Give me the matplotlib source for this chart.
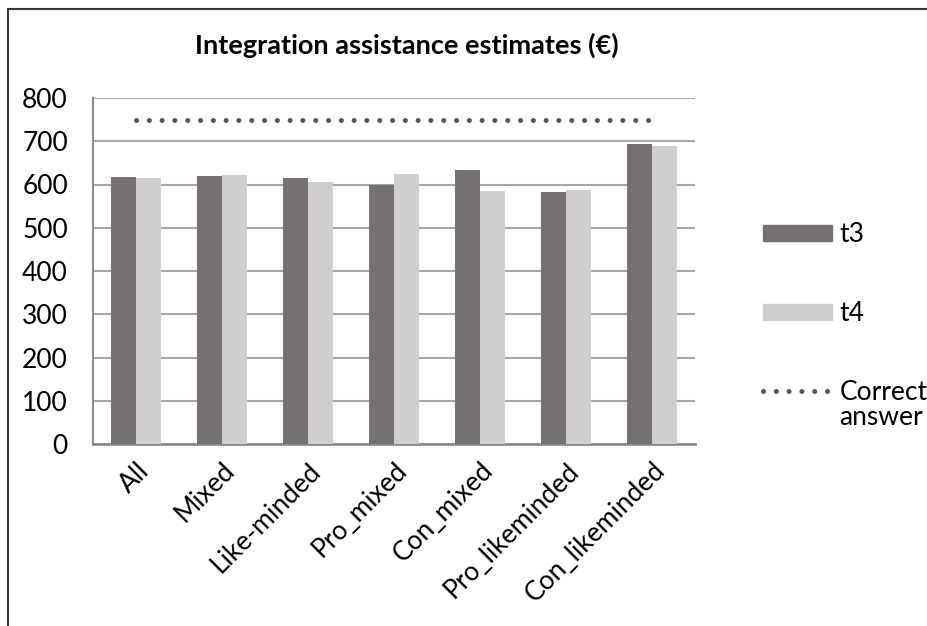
import numpy as np
import matplotlib
matplotlib.use("Agg")
import matplotlib.pyplot as plt
from matplotlib.lines import Line2D
from matplotlib.patches import Patch

# data
groups = ["All", "Mixed", "Like-minded", "Pro_mixed", "Con_mixed",
          "Pro_likeminded", "Con_likeminded"]
t3 = [618, 620, 616, 600, 634, 583, 694]
t4 = [614, 621, 606, 625, 586, 587, 690]
correct_answer = 750
yticks = [0, 100, 200, 300, 400, 500, 600, 700, 800]

plt.rcParams['font.family'] = ['Lato', 'DejaVu Sans']
fs = 19

fig = plt.figure(figsize=(9.28, 6.26), dpi=100)
ax = fig.add_axes([93/928, 1-444/626, (695-93)/928, (444-98)/626])

x = np.arange(len(groups))
w = 0.285
ax.bar(x - w/2, t3, w, color="#767171", zorder=3)
ax.bar(x + w/2, t4, w, color="#d0cece", zorder=3)
ax.plot(x, [correct_answer]*len(x), color="#555555", lw=3.6,
        linestyle=(0, (0.01, 2.55)), dash_capstyle="round", zorder=4)

ax.set_xlim(-0.5, len(groups) - 0.5)
ax.set_ylim(0, 800)
ax.set_yticks(yticks)
ax.yaxis.grid(True, color="#a6a6a6", lw=1.5, zorder=0)
ax.set_axisbelow(True)
for s in ["top", "right"]:
    ax.spines[s].set_visible(False)
ax.spines["left"].set_color("#8c8c8c")
ax.spines["left"].set_linewidth(1.5)
ax.spines["bottom"].set_color("#8c8c8c")
ax.spines["bottom"].set_linewidth(2)
ax.tick_params(axis="both", length=0, labelsize=fs)
ax.tick_params(axis="y", pad=18)
ax.set_xticks(x)
ax.set_xticklabels(groups, rotation=45, ha="right", va="top",
                   rotation_mode="anchor")
ax.tick_params(axis="x", pad=10)

handles = [Patch(color="#767171", label="t3"),
           Patch(color="#d0cece", label="t4"),
           Line2D([0], [0], color="#555555", lw=3.6, linestyle=(0, (0.01, 2.55)),
                  dash_capstyle="round", label="Correct")]
leg = ax.legend(handles=handles, loc="upper left", bbox_to_anchor=(763/928, 1-222/626),
                bbox_transform=fig.transFigure, frameon=False, fontsize=fs,
                handlelength=2.6, handleheight=0.57, handletextpad=0.3,
                labelspacing=2.05, borderaxespad=0, borderpad=0)

# second line of the "Correct answer" legend label
fig.canvas.draw()
bb = leg.get_texts()[2].get_window_extent()
fig.text(bb.x0, bb.y0 - 25, "answer", ha="left", va="bottom", fontsize=fs,
         transform=None)

fig.text(407/928, 1-45/626, "Integration assistance estimates (€)",
         ha="center", va="center", fontsize=19.5, fontweight="bold")

# chart border (top and left edges visible)
fig.add_artist(Line2D([8/928, 1], [1-9/626, 1-9/626], color="#3a3a3a", lw=1.5,
                      transform=fig.transFigure))
fig.add_artist(Line2D([8/928, 8/928], [0, 1-9/626], color="#3a3a3a", lw=1.5,
                      transform=fig.transFigure))

fig.savefig("out.png", dpi=100)
